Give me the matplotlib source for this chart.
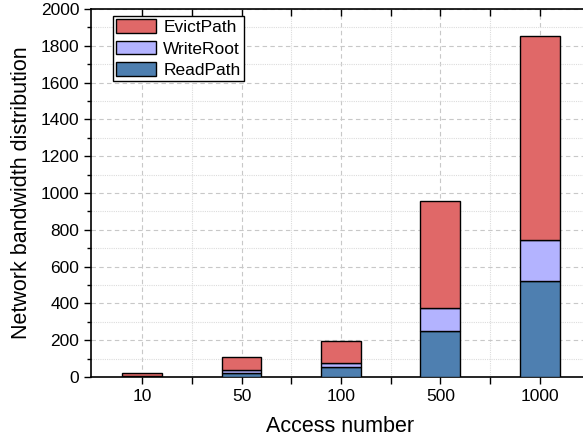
import numpy as np
import matplotlib.pyplot as plt
from matplotlib.ticker import MultipleLocator, FixedLocator

plt.rcParams['font.family'] = ['Liberation Sans', 'DejaVu Sans']

# data
access = ['10', '50', '100', '500', '1000']
read_path = [5, 20, 53, 250, 522]
write_root = [3, 16, 21, 125, 223]
evict_path = [12, 74, 120, 583, 1108]

c_read = '#4E7FB0'
c_write = '#B3B3FF'
c_evict = '#E06868'

fig = plt.figure(figsize=(5.83, 4.42), dpi=100)
ax = fig.add_axes([0.156, 0.147, 0.855, 0.8326])

x = np.arange(len(access))
w = 0.4
read_path = np.array(read_path)
write_root = np.array(write_root)
evict_path = np.array(evict_path)

ax.bar(x, read_path, w, color=c_read, edgecolor='black', lw=1.0, label='ReadPath', zorder=3)
ax.bar(x, write_root, w, bottom=read_path, color=c_write, edgecolor='black', lw=1.0,
       label='WriteRoot', zorder=3)
ax.bar(x, evict_path, w, bottom=read_path + write_root, color=c_evict, edgecolor='black',
       lw=1.0, label='EvictPath', zorder=3)

ax.set_xlim(-0.515, 4.5)
ax.set_ylim(0, 2000)
ax.set_xticks(x)
ax.set_xticklabels(access)
ax.xaxis.set_minor_locator(FixedLocator(x[:-1] + 0.5))
ax.yaxis.set_major_locator(MultipleLocator(200))
ax.yaxis.set_minor_locator(MultipleLocator(100))

ax.tick_params(axis='both', which='major', labelsize=12.5, direction='out', length=5, width=1)
ax.tick_params(axis='both', which='minor', direction='out', length=3, width=1)
ax.tick_params(axis='x', which='both', top=True, length=5)
ax.tick_params(axis='y', which='both', right=False)
ax.tick_params(axis='x', which='both', labeltop=False)
# top ticks inward
for t in ax.xaxis.get_major_ticks() + ax.xaxis.get_minor_ticks():
    t.tick2line.set_marker(3)
    t.tick2line.set_markersize(5)

ax.grid(which='major', ls=(0, (4, 3)), color='#c8c8c8', lw=0.8, zorder=0)
ax.grid(which='minor', ls=(0, (1, 1)), color='#dcdcdc', lw=0.8, zorder=0)
for s in ax.spines.values():
    s.set_linewidth(1.2)

ax.set_xlabel('Access number', fontsize=15.5, labelpad=9)
ax.set_ylabel('Network bandwidth distribution', fontsize=15.5, labelpad=6)

h, l = ax.get_legend_handles_labels()
ax.legend(h[::-1], l[::-1], loc='upper left', bbox_to_anchor=(0.044, 0.981), fontsize=12.5,
          fancybox=False, edgecolor='black', framealpha=1, handlelength=2.3, handleheight=0.85,
          handletextpad=0.4, labelspacing=0.3, borderpad=0.2, borderaxespad=0)

fig.savefig('out.png', dpi=100)
